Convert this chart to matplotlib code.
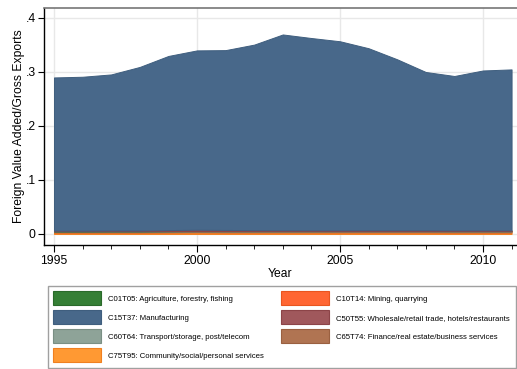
import matplotlib
matplotlib.use("Agg")
import matplotlib.pyplot as plt
from matplotlib.patches import Patch
import numpy as np

plt.rcParams['font.family'] = ['Liberation Sans', 'DejaVu Sans']

years = list(range(1995, 2012))

# Sector shares of foreign value added in gross exports
community = [0.0030, 0.0030, 0.0030, 0.0030, 0.0031, 0.0032, 0.0031, 0.0031, 0.0031, 0.0031, 0.0031, 0.0031, 0.0031, 0.0031, 0.0030, 0.0030, 0.0030]
mining = [0.0003, 0.0003, 0.0003, 0.0003, 0.0003, 0.0003, 0.0003, 0.0003, 0.0003, 0.0003, 0.0003, 0.0003, 0.0003, 0.0003, 0.0003, 0.0003, 0.0003]
finance = [0.0012, 0.0012, 0.0013, 0.0013, 0.0014, 0.0015, 0.0015, 0.0015, 0.0015, 0.0015, 0.0016, 0.0016, 0.0016, 0.0016, 0.0016, 0.0016, 0.0016]
transport = [0.0004, 0.0004, 0.0004, 0.0004, 0.0004, 0.0004, 0.0004, 0.0004, 0.0004, 0.0004, 0.0004, 0.0004, 0.0004, 0.0004, 0.0004, 0.0004, 0.0004]
agriculture = [0.0002, 0.0002, 0.0002, 0.0002, 0.0002, 0.0002, 0.0002, 0.0002, 0.0002, 0.0002, 0.0002, 0.0002, 0.0002, 0.0002, 0.0002, 0.0002, 0.0002]
wholesale = [0.0012, 0.0011, 0.0013, 0.0012, 0.0018, 0.0024, 0.0020, 0.0016, 0.0015, 0.0014, 0.0013, 0.0014, 0.0014, 0.0014, 0.0013, 0.0013, 0.0013]
manufacturing = [0.2836, 0.2850, 0.2890, 0.3030, 0.3225, 0.3320, 0.3330, 0.3436, 0.3625, 0.3560, 0.3500, 0.3370, 0.3165, 0.2930, 0.2858, 0.2960, 0.2980]

labels = {
    'agri': 'C01T05: Agriculture, forestry, fishing',
    'manu': 'C15T37: Manufacturing',
    'trans': 'C60T64: Transport/storage, post/telecom',
    'comm': 'C75T95: Community/social/personal services',
    'mining': 'C10T14: Mining, quarrying',
    'whole': 'C50T55: Wholesale/retail trade, hotels/restaurants',
    'fin': 'C65T74: Finance/real estate/business services',
}
colors = {
    'agri': '#357f35',
    'manu': '#48688a',
    'trans': '#8ea398',
    'comm': '#ff9933',
    'mining': '#ff6633',
    'whole': '#a0585c',
    'fin': '#b07452',
}
edges = {
    'agri': '#2a6a2a',
    'manu': '#3f5e7e',
    'trans': '#7a8f84',
    'comm': '#f08020',
    'mining': '#e85520',
    'whole': '#8c4448',
    'fin': '#9a6040',
}

W, H = 517, 369
fig = plt.figure(figsize=(W / 100, H / 100), dpi=100)
ax = fig.add_axes([44 / W, 1 - 245 / H, 1 - 44 / W, (245 - 8) / H])

order = ['comm', 'mining', 'fin', 'trans', 'agri', 'whole', 'manu']
series = {'comm': community, 'mining': mining, 'fin': finance, 'trans': transport,
          'agri': agriculture, 'whole': wholesale, 'manu': manufacturing}
base = np.zeros(len(years))
for k in order:
    top = base + np.array(series[k])
    ax.fill_between(years, base, top, facecolor=colors[k], edgecolor=edges[k], linewidth=0.7, zorder=2)
    base = top

ax.set_xlim(1994.65, 2011.19)
ax.set_ylim(-0.0204, 0.4185)
ax.set_yticks([0, 0.1, 0.2, 0.3, 0.4])
ax.set_yticklabels(['0', '.1', '.2', '.3', '.4'], fontsize=8.7)
ax.set_xticks([1995, 2000, 2005, 2010])
ax.set_xticklabels(['1995', '2000', '2005', '2010'], fontsize=8.7)
ax.set_xticks(years, minor=True)
ax.tick_params(axis='x', which='major', length=5, width=0.8, pad=2)
ax.tick_params(axis='x', which='minor', length=3, width=0.6)
ax.tick_params(axis='y', which='major', length=4, width=0.8, pad=2)
ax.grid(True, which='major', color='#e8e8e8', linewidth=1.0, zorder=0)
ax.set_axisbelow(True)

ax.spines['right'].set_visible(False)
ax.spines['top'].set_color('#777777')
ax.spines['top'].set_linewidth(1.2)
ax.spines['left'].set_linewidth(1.0)
ax.spines['bottom'].set_linewidth(1.0)

ax.set_xlabel('Year', fontsize=8.7, labelpad=1)
ax.set_ylabel('Foreign Value Added/Gross Exports', fontsize=8.7, labelpad=0.5)

leg_order = ['agri', 'manu', 'trans', 'comm', 'mining', 'whole', 'fin']
handles = [Patch(facecolor=colors[k], edgecolor=edges[k], linewidth=0.8) for k in leg_order]
leg = fig.legend(handles, [labels[k] for k in leg_order], ncol=2,
                 loc='upper left', bbox_to_anchor=(48 / W, 1 - 286 / H),
                 bbox_transform=fig.transFigure, borderaxespad=0,
                 fontsize=5.6, handlelength=6.17, handleheight=2.39,
                 labelspacing=0.64, handletextpad=0.9, columnspacing=2.2,
                 borderpad=0.7, fancybox=False, frameon=True)
leg.get_frame().set_edgecolor('#888888')
leg.get_frame().set_linewidth(1.0)

fig.savefig('out.png', dpi=100)
